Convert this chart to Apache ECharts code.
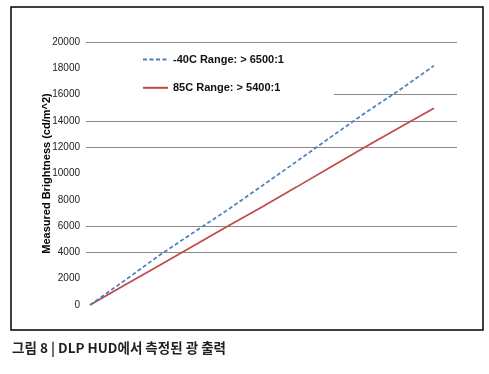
<!DOCTYPE html>
<html><head><meta charset="utf-8">
<script src="https://cdn.jsdelivr.net/npm/echarts@6/dist/echarts.min.js"></script>
<style>html,body{margin:0;padding:0;background:#fff}#c{width:489px;height:374px}</style>
</head><body><div id="c"></div>
<script>
const xSteps = [0,1,2,3,4,5,6,7,8,9,10];
const blueName = '-40C Range: > 6500:1';
const redName = '85C Range: > 5400:1';
const blueValues = [0,1850,3750,5500,7230,9060,10900,12770,14610,16350,18200];
const redValues = [0,1500,2990,4490,5990,7460,8965,10490,12010,13490,14960];
const yTicks = [0,2000,4000,6000,8000,10000,12000,14000,16000,18000,20000];
const yAxisTitle = 'Measured Brightness (cd/m^2)';
const caption = '그림 8 | DLP HUD에서 측정된 광 출력';

const gridColors = ['transparent','transparent','#8a8a8a','#8a8a8a','transparent','transparent','#8a8a8a','#8a8a8a','#8a8a8a','transparent','#8a8a8a'];

const chart = echarts.init(document.getElementById('c'));
chart.setOption({
  backgroundColor:'#fff',
  animation:false,
  grid:{left:86,right:32,top:42,bottom:69},
  xAxis:{type:'value',min:-0.1163,max:10.669,show:false},
  yAxis:{type:'value',min:yTicks[0],max:yTicks[yTicks.length-1],interval:2000,
    axisLine:{show:false},axisTick:{show:false},
    axisLabel:{margin:6,fontSize:10,color:'#222',fontFamily:'Liberation Sans',formatter:v=>String(v)},
    splitLine:{lineStyle:{color:gridColors,width:1}},
    name:yAxisTitle,nameLocation:'middle',nameGap:34,nameRotate:90,nameMoveOverlap:false,
    nameTextStyle:{fontSize:11,fontWeight:'bold',color:'#000',fontFamily:'Liberation Sans'}
  },
  legend:{orient:'vertical',left:86,top:46,padding:[8,50,4,56],backgroundColor:'#fff',
    itemWidth:25,itemHeight:14,itemGap:17,
    itemStyle:{opacity:0},
    textStyle:{fontSize:11,fontWeight:'bold',color:'#111',fontFamily:'Liberation Sans'},
    data:[blueName,redName]},
  series:[
    {name:blueName,type:'line',symbol:'none',data:xSteps.map((x,i)=>[x,blueValues[i]]),
     lineStyle:{color:'#4a7ebb',width:1.7,type:[4,2.5]},itemStyle:{color:'#4a7ebb'},z:3},
    {name:redName,type:'line',symbol:'none',data:xSteps.map((x,i)=>[x,redValues[i]]),
     lineStyle:{color:'#be4b48',width:1.7},itemStyle:{color:'#be4b48'},z:2}
  ],
  graphic:[
    {type:'rect',shape:{x:11,y:7,width:472,height:323},style:{fill:'none',stroke:'#000',lineWidth:1.5},z:-1,silent:true},
    {type:'text',left:12,top:341,style:{text:caption,font:'bold 13.5px "Noto Sans CJK KR"',fill:'#231f20'}}
  ]
});
</script></body></html>
